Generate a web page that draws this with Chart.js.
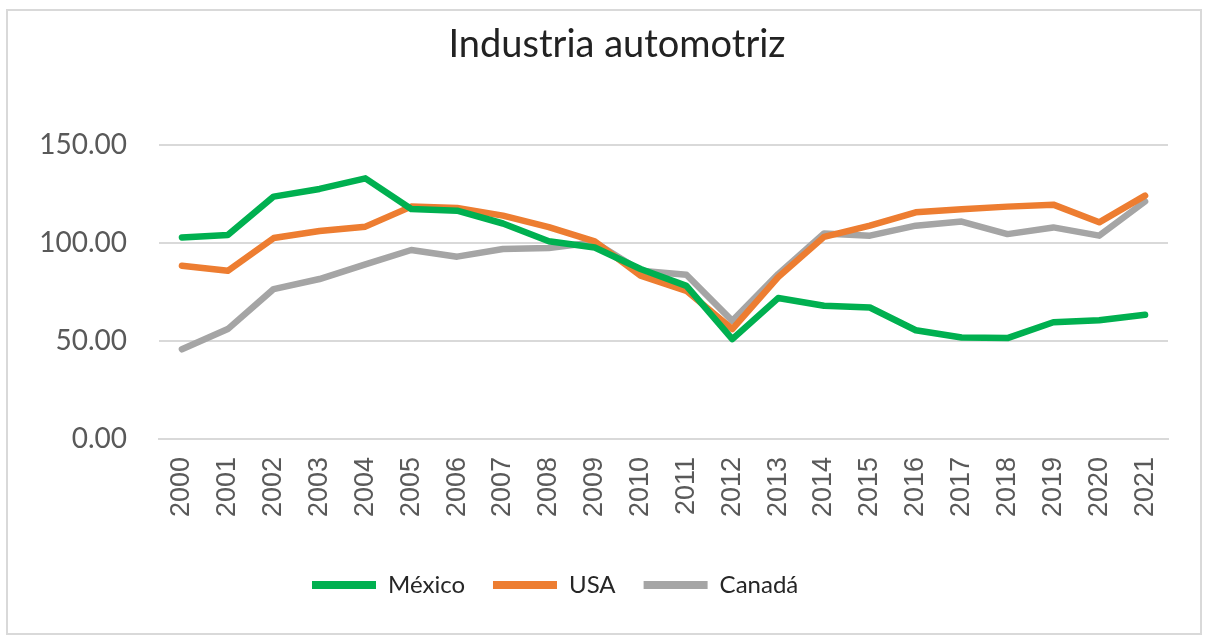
<!DOCTYPE html>
<html>
<head>
<meta charset="utf-8">
<script src="https://cdn.jsdelivr.net/npm/chart.js@4"></script>
<style>
  html, body { margin: 0; padding: 0; background: #fff; }
  #wrap { position: relative; width: 1207px; height: 641px; }
  #frame { position: absolute; left: 6px; top: 9px; width: 1192px; height: 622px; border: 2px solid #d9d9d9; pointer-events: none; }
  canvas { position: absolute; left: 0; top: 0; }
</style>
</head>
<body>
<div id="wrap">
  <canvas id="chart" width="1207" height="641"></canvas>
  <div id="frame"></div>
</div>
<script>
// datos
const years = ['2000', '2001', '2002', '2003', '2004', '2005', '2006', '2007', '2008', '2009', '2010',
  '2011', '2012', '2013', '2014', '2015', '2016', '2017', '2018', '2019', '2020', '2021'];
const mexico = [102.7, 103.9, 123.5, 127.4, 132.8, 117.2, 116.3, 109.8, 100.8, 97.6, 86.6,
  78.0, 50.9, 71.8, 67.9, 67.0, 55.4, 51.7, 51.4, 59.5, 60.5, 63.3];
const usa = [88.3, 85.7, 102.4, 106.0, 108.2, 118.4, 117.7, 113.8, 108.0, 100.7, 83.2,
  75.5, 56.0, 82.5, 103.0, 108.7, 115.5, 117.0, 118.4, 119.4, 110.4, 124.0];
const canada = [45.7, 56.0, 76.4, 81.5, 89.0, 96.3, 92.9, 96.8, 97.3, 100.2, 85.7,
  83.7, 60.2, 84.0, 104.7, 103.6, 108.7, 110.8, 104.4, 107.8, 103.6, 121.0];

const GRID = '#d9d9d9';
const TXT = '#595959';

// desplaza título y leyenda como en el original de Excel
const shiftBoxes = {
  id: 'shiftBoxes',
  afterLayout(chart, args, opts) {
    const t = chart.titleBlock;
    const l = chart.legend;
    if (t) { t.left += opts.titleDx; t.right += opts.titleDx; }
    if (l) { l.left = opts.legendLeft; }
  }
};

const mkSet = (label, data, color) => ({
  label,
  data,
  borderColor: color,
  backgroundColor: color,
  borderWidth: 6.5,
  borderJoinStyle: 'round',
  borderCapStyle: 'round',
  pointRadius: 0,
  tension: 0
});

new Chart(document.getElementById('chart').getContext('2d'), {
  type: 'line',
  data: {
    labels: years,
    datasets: [
      mkSet('México', mexico, '#00b050'),
      mkSet('USA', usa, '#ed7d31'),
      mkSet('Canadá', canada, '#a5a5a5')
    ]
  },
  plugins: [shiftBoxes],
  options: {
    responsive: false,
    animation: false,
    layout: { padding: { top: 10, left: 0, right: 39, bottom: 34 } },
    scales: {
      x: {
        offset: true,
        grid: { display: false, drawTicks: false },
        border: { display: true, color: GRID, width: 2 },
        ticks: {
          color: TXT,
          font: { family: 'Liberation Sans', size: 27 },
          minRotation: 90,
          maxRotation: 90,
          padding: 18,
          autoSkip: false
        },
        afterFit: (scale) => { scale.height = 106; }
      },
      y: {
        min: 0,
        max: 150,
        grid: { color: GRID, lineWidth: 2, drawTicks: false },
        border: { display: false },
        ticks: {
          stepSize: 50,
          color: TXT,
          padding: 32,
          font: { family: 'Lato', size: 28 },
          callback: (v) => v.toFixed(2)
        },
        afterFit: (scale) => { scale.width = 159; }
      }
    },
    plugins: {
      title: {
        display: true,
        text: 'Industria automotriz',
        color: '#222',
        font: { family: 'Lato', size: 38, weight: 'normal' },
        padding: { top: 12, bottom: 77 }
      },
      legend: {
        position: 'bottom',
        align: 'start',
        labels: {
          color: '#262626',
          font: { family: 'Lato', size: 24 },
          boxWidth: 64,
          boxHeight: 8,
          padding: 28,
          generateLabels: (chart) => Chart.defaults.plugins.legend.labels.generateLabels(chart)
            .map((item) => ({ ...item, lineWidth: 0 }))
        }
      },
      tooltip: { enabled: false },
      shiftBoxes: { titleDx: 33, legendLeft: 284 }
    }
  }
});
</script>
</body>
</html>
